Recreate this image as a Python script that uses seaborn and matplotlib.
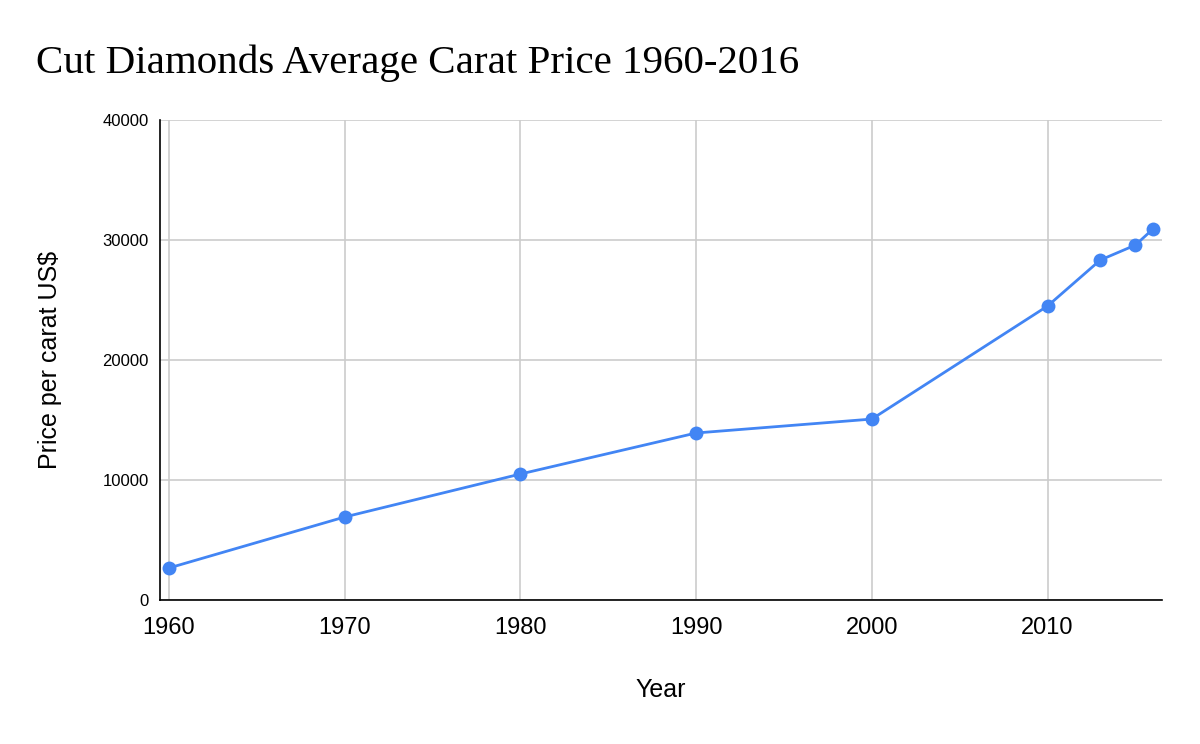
import matplotlib
matplotlib.use("Agg")
import matplotlib.pyplot as plt
import seaborn as sns
import pandas as pd

years = [1960, 1970, 1980, 1990, 2000, 2010, 2013, 2015, 2016]
prices = [2670, 6920, 10500, 13920, 15080, 24500, 28330, 29580, 30920]
x_ticks = [1960, 1970, 1980, 1990, 2000, 2010]
y_ticks = [0, 10000, 20000, 30000, 40000]

df = pd.DataFrame({"Year": years, "Price": prices})

sns.set_style("white")
plt.rcParams['font.family'] = ['Liberation Sans', 'DejaVu Sans']
plt.rcParams['text.color'] = 'black'
plt.rcParams['axes.labelcolor'] = 'black'
plt.rcParams['xtick.color'] = 'black'
plt.rcParams['ytick.color'] = 'black'

fig = plt.figure(figsize=(12, 7.44), dpi=100)
ax = fig.add_axes([0.1333, 0.1935, 0.835, 0.6452])

sns.lineplot(data=df, x="Year", y="Price", ax=ax, color="#4285F4",
             linewidth=2.0, marker="o", markersize=10, markeredgewidth=0,
             zorder=3)

ax.set_xlim(1959.49, 2016.51)
ax.set_ylim(0, 40000)
ax.set_xticks(x_ticks)
ax.set_yticks(y_ticks)
ax.set_xticklabels([str(t) for t in x_ticks], fontsize=17)
ax.set_yticklabels([str(t) for t in y_ticks], fontsize=12)
ax.tick_params(axis='both', length=0)
ax.tick_params(axis='x', pad=12)
ax.tick_params(axis='y', pad=8)

ax.grid(True, color="#cccccc", linewidth=1.2, zorder=0)
ax.set_axisbelow(True)
for s in ["top", "right"]:
    ax.spines[s].set_visible(False)
for s in ["left", "bottom"]:
    ax.spines[s].set_color("black")
    ax.spines[s].set_linewidth(1.2)

ax.set_xlabel("Year", fontsize=18, labelpad=28)
ax.set_ylabel("Price per carat US$", fontsize=18, labelpad=29)

fig.text(0.03, 0.915, "Cut Diamonds Average Carat Price 1960-2016",
         fontsize=29.5, family=['Liberation Serif', 'DejaVu Serif'],
         ha='left', va='center', color='black')

fig.savefig("out.png", dpi=100)
